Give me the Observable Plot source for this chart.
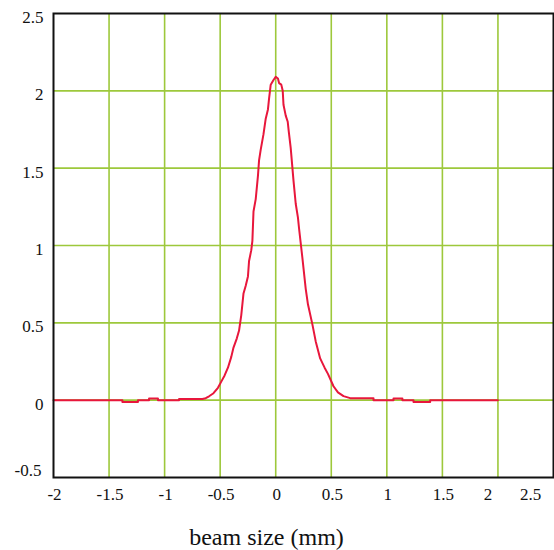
<!DOCTYPE html>
<html>
<head>
<meta charset="utf-8">
<script src="https://cdn.jsdelivr.net/npm/d3@7"></script>
<script src="https://cdn.jsdelivr.net/npm/@observablehq/plot@0.6"></script>
<style>
  html, body { margin: 0; padding: 0; background: #fff; }
  #chart svg { display: block; }
  #chart svg text { font-family: "Liberation Serif", "DejaVu Serif", serif !important; }
</style>
</head>
<body>
<div id="chart"></div>
<script>
// beam profile (position in mm, intensity)
const beamX = [-2, -1.38, -1.38, -1.24, -1.24, -1.14, -1.14, -1.06, -1.06, -0.87, -0.87, -0.66, -0.63, -0.6, -0.56, -0.52, -0.49, -0.46, -0.43, -0.4, -0.38, -0.35, -0.33, -0.31, -0.29, -0.27, -0.25, -0.24, -0.22, -0.21, -0.2, -0.18, -0.16, -0.15, -0.135, -0.11, -0.09, -0.07, -0.06, -0.045, -0.02, 0.0, 0.02, 0.03, 0.05, 0.063, 0.07, 0.09, 0.108, 0.117, 0.135, 0.16, 0.18, 0.2, 0.21, 0.24, 0.27, 0.29, 0.33, 0.36, 0.4, 0.44, 0.47, 0.52, 0.56, 0.61, 0.67, 0.88, 0.88, 1.06, 1.06, 1.14, 1.14, 1.24, 1.24, 1.39, 1.39, 2.0];
const beamY = [0, 0, -0.012, -0.012, 0, 0, 0.01, 0.01, 0, 0, 0.008, 0.008, 0.013, 0.025, 0.045, 0.08, 0.12, 0.16, 0.21, 0.28, 0.34, 0.4, 0.45, 0.55, 0.69, 0.74, 0.8, 0.9, 0.97, 1.03, 1.22, 1.3, 1.45, 1.55, 1.62, 1.72, 1.82, 1.88, 1.95, 2.04, 2.07, 2.09, 2.08, 2.05, 2.04, 2.0, 1.91, 1.84, 1.8, 1.74, 1.63, 1.42, 1.27, 1.18, 1.11, 0.92, 0.72, 0.62, 0.49, 0.38, 0.27, 0.21, 0.17, 0.09, 0.05, 0.026, 0.013, 0.013, 0, 0, 0.01, 0.01, 0, 0, -0.012, -0.012, 0, 0];

const xTicks = [-2, -1.5, -1, -0.5, 0, 0.5, 1, 1.5, 2, 2.5];
const yTicks = [-0.5, 0, 0.5, 1, 1.5, 2, 2.5];
const xLabel = "beam size (mm)";

const data = beamX.map((x, i) => ({x, y: beamY[i]}));
const gridColor = "#9dc83b";
const font = "Liberation Serif";

const axisOpts = {tickSize: 0, fontSize: 17, fontFamily: font, fontVariant: "normal", fill: "#111", label: null, tickFormat: d => String(d)};

const chart = Plot.plot({
  width: 554,
  height: 550,
  marginTop: 13,
  marginLeft: 53,
  marginRight: 1,
  marginBottom: 73,
  style: {fontFamily: font, background: "#fff", color: "#111"},
  x: {domain: [-2, 2.5], ticks: xTicks},
  y: {domain: [-0.5, 2.5], ticks: yTicks},
  marks: [
    Plot.gridX(xTicks.slice(1, 9), {stroke: gridColor, strokeOpacity: 1, strokeWidth: 1.6}),
    Plot.gridY(yTicks.slice(1, 6), {stroke: gridColor, strokeOpacity: 1, strokeWidth: 1.6}),
    Plot.line(data, {x: "x", y: "y", stroke: "#e8173c", strokeWidth: 2, curve: "linear"}),
    Plot.frame({stroke: "#111", strokeWidth: 2}),
    Plot.axisY(yTicks.slice(1), {...axisOpts, tickPadding: 10, dy: 4}),
    Plot.axisY([-0.5], {...axisOpts, tickPadding: 12, dy: -7}),
    Plot.axisX(xTicks.slice(0, 8), {...axisOpts, tickPadding: 10, dx: 1}),
    Plot.axisX([2], {...axisOpts, tickPadding: 10, dx: -10}),
    Plot.axisX([2.5], {...axisOpts, tickPadding: 10, dx: -23}),
    Plot.text([xLabel], {frameAnchor: "bottom", dx: -37, dy: 67, fontSize: 24, fontFamily: font, fill: "#111", text: d => d})
  ]
});
document.getElementById("chart").append(chart);
</script>
</body>
</html>
